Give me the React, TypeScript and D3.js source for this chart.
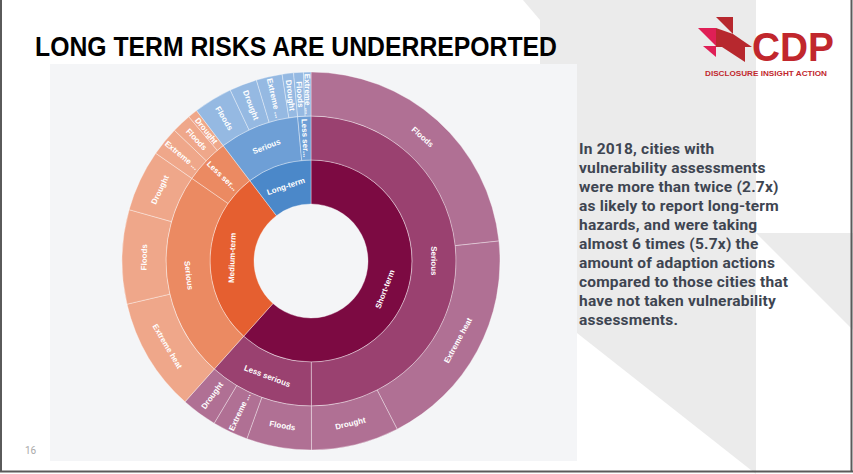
import React from "react"
import * as d3 from "d3"

// hierarchy levels (values are degrees of arc)
const terms = ["Short-term", "Medium-term", "Long-term"]
const severities = ["Serious", "Less serious"]

const shortSeriousHazards = ["Floods", "Extreme heat", "Drought"]
const shortSeriousValues = [84, 69, 27]
const shortLessHazards = ["Floods", "Extreme heat", "Drought"]
const shortLessValues = [20, 11, 11]

const mediumSeriousHazards = ["Extreme heat", "Floods", "Drought"]
const mediumSeriousValues = [35, 29, 19]
const mediumLessHazards = ["Extreme heat", "Floods", "Drought"]
const mediumLessValues = [9, 6, 3]

const longSeriousHazards = ["Floods", "Drought", "Extreme heat", "Drought"]
const longSeriousValues = [12, 8.5, 8, 3.5]
const longLessHazards = ["Floods", "Extreme heat"]
const longLessValues = [3, 2.3]

const termColors: Record<string, string[]> = {
  "Short-term": ["#7c0a42", "#9a4170", "#b07094"],
  "Medium-term": ["#e55f30", "#eb8a62", "#efa78a"],
  "Long-term": ["#4b88c9", "#6e9fd6", "#95b9e2"],
}

const noteLines = [
  "In 2018, cities with",
  "vulnerability assessments",
  "were more than twice (2.7x)",
  "as likely to report long-term",
  "hazards, and were taking",
  "almost 6 times (5.7x) the",
  "amount of adaption actions",
  "compared to those cities that",
  "have not taken vulnerability",
  "assessments.",
]

function leaves(names: string[], values: number[]) {
  return names.map((name, i) => ({ name, value: values[i] }))
}

const tree = {
  name: "root",
  children: [
    {
      name: terms[0],
      children: [
        { name: severities[0], children: leaves(shortSeriousHazards, shortSeriousValues) },
        { name: severities[1], children: leaves(shortLessHazards, shortLessValues) },
      ],
    },
    {
      name: terms[1],
      children: [
        { name: severities[0], children: leaves(mediumSeriousHazards, mediumSeriousValues) },
        { name: severities[1], children: leaves(mediumLessHazards, mediumLessValues) },
      ],
    },
    {
      name: terms[2],
      children: [
        { name: severities[0], children: leaves(longSeriousHazards, longSeriousValues) },
        { name: severities[1], children: leaves(longLessHazards, longLessValues) },
      ],
    },
  ],
}

const cx = 311
const cy = 261
const radii = [0, 57, 101, 145, 189]
const fontSize = 8

let ctx: CanvasRenderingContext2D | null = null
function textWidth(s: string) {
  if (!ctx) ctx = document.createElement("canvas").getContext("2d")
  if (!ctx) return s.length * fontSize * 0.55
  ctx.font = `bold ${fontSize}px "Liberation Sans", Arial, sans-serif`
  return ctx.measureText(s).width
}

function Sunburst() {
  const root = d3
    .hierarchy(tree as any)
    .sum((d: any) => d.value ?? 0)
  const part = d3.partition().size([2 * Math.PI, 4])(root as any)
  const nodes = part.descendants().filter((d) => d.depth > 0)

  const arc = d3
    .arc<any>()
    .startAngle((d) => d.x0)
    .endAngle((d) => d.x1)
    .innerRadius((d) => radii[d.depth])
    .outerRadius((d) => radii[d.depth + 1])

  const termOf = (d: any) => {
    let n = d
    while (n.depth > 1) n = n.parent
    return n.data.name
  }

  return (
    <g transform={`translate(${cx},${cy})`}>
      {nodes.map((d: any, i) => (
        <path
          key={i}
          d={arc(d) ?? ""}
          fill={termColors[termOf(d)][d.depth - 1]}
          stroke="#ffffff"
          strokeOpacity={0.45}
          strokeWidth={0.8}
        />
      ))}
      {nodes.map((d: any, i) => {
        const a = (d.x0 + d.x1) / 2
        const deg = (a * 180) / Math.PI
        const rm = (radii[d.depth] + radii[d.depth + 1]) / 2
        const arcLen = (d.x1 - d.x0) * rm
        const thick = radii[d.depth + 1] - radii[d.depth]
        // wide slices get text along the arc, thin ones along the radius
        const tangential = arcLen >= 45
        let label = d.data.name as string
        const avail = tangential ? arcLen - 6 : thick - 4
        if (textWidth(label) > avail) label = label.slice(0, 8) + "..."
        let rot
        if (tangential) rot = deg > 90 && deg < 270 ? deg - 180 : deg
        else rot = deg < 180 ? deg - 90 : deg + 90
        const x = rm * Math.sin(a)
        const y = -rm * Math.cos(a)
        return (
          <text
            key={"t" + i}
            transform={`translate(${x},${y}) rotate(${rot})`}
            textAnchor="middle"
            dy="0.35em"
            fill="#ffffff"
            fontSize={fontSize}
            fontWeight="bold"
            fontFamily='"Liberation Sans", Arial, sans-serif'
          >
            {label}
          </text>
        )
      })}
    </g>
  )
}

export default function App() {
  return (
    <svg
      width={853}
      height={474}
      style={{ position: "absolute", left: 0, top: 0, background: "#ffffff" }}
    >
      {/* slide background shapes */}
      <polygon points="523,0 756,0 756,474 577,333 540,310 540,20" fill="#ebebeb" />
      <polygon points="756,233 853,233 853,330" fill="#ebebeb" />

      {/* chart panel */}
      <rect x={50} y={64} width={527} height={397} fill="#f4f5f7" />

      <text
        x={35}
        y={56}
        fontSize={27}
        fontWeight="bold"
        fontFamily='"Liberation Sans", Arial, sans-serif'
        textLength={522}
        lengthAdjust="spacingAndGlyphs"
        fill="#000000"
      >
        LONG TERM RISKS ARE UNDERREPORTED
      </text>

      {/* CDP logo */}
      <g>
        <polygon points="698,28 716,28 716,46" fill="#df1f56" />
        <polygon points="703,46 716,46 716,57" fill="#df1f56" />
        <polygon points="716,17 733,17 733,34" fill="#b7282e" />
        <polygon points="716,28 733,34 733,47 716,47" fill="#b7282e" />
        <polygon points="733,34 752,47 733,47" fill="#b7282e" />
        <polygon points="722,47 745,47 745,62" fill="#b7282e" />
        <text
          x={752}
          y={61}
          fontSize={40}
          fontWeight="bold"
          fontFamily='"Liberation Sans", Arial, sans-serif'
          fill="#c1272d"
          textLength={82}
          lengthAdjust="spacingAndGlyphs"
        >
          CDP
        </text>
        <text
          x={705}
          y={76}
          fontSize={7.5}
          fontWeight="bold"
          fontFamily='"Liberation Sans", Arial, sans-serif'
          fill="#c1272d"
          textLength={122}
          lengthAdjust="spacingAndGlyphs"
        >
          DISCLOSURE INSIGHT ACTION
        </text>
      </g>

      <Sunburst />

      {noteLines.map((line, i) => (
        <text
          key={i}
          x={579}
          y={154 + i * 19}
          fontSize={15.5}
          letterSpacing={0.2}
          fontWeight="bold"
          fontFamily="Roboto, 'Open Sans', sans-serif"
          fill="#3e4551"
        >
          {line}
        </text>
      ))}

      <text x={25} y={454} fontSize={10} fill="#a9a9a9" fontFamily="Roboto, sans-serif">
        16
      </text>

      {/* slide frame */}
      <line x1={1} y1={0} x2={1} y2={472} stroke="#5a5a5a" strokeWidth={2} />
      <line x1={851.5} y1={0} x2={851.5} y2={472} stroke="#5a5a5a" strokeWidth={2} />
      <line x1={0} y1={471.5} x2={853} y2={471.5} stroke="#5a5a5a" strokeWidth={2} />
    </svg>
  )
}
